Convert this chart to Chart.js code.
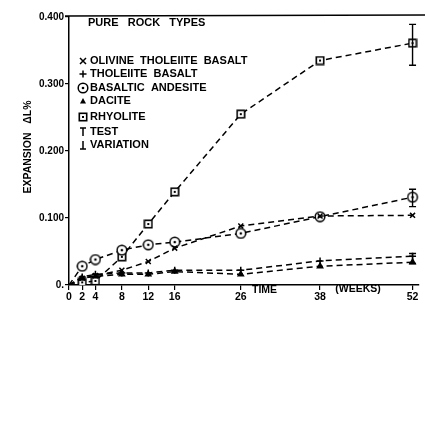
<!DOCTYPE html>
<html><head><meta charset="utf-8">
<script src="https://cdn.jsdelivr.net/npm/chart.js@4/dist/chart.umd.min.js"></script>
<style>html,body{margin:0;padding:0;background:#fff;} canvas{display:block;}</style>
</head><body><canvas id="c" width="425" height="306"></canvas>
<script>
// ---- data ----
const weeks = [0, 2, 4, 8, 12, 16, 26, 38, 52];
const olivineTholeiiteBasalt = [0, 0.010, 0.014, 0.022, 0.035, 0.055, 0.088, 0.103, 0.104];
const tholeiiteBasalt = [0, 0.012, 0.016, 0.018, 0.018, 0.022, 0.022, 0.036, 0.043];
const basalticAndesite = [0, 0.028, 0.038, 0.052, 0.060, 0.064, 0.077, 0.102, 0.131];
const dacite = [0, 0.010, 0.013, 0.016, 0.016, 0.020, 0.016, 0.028, 0.034];
const rhyolite = [0, 0.004, 0.006, 0.042, 0.091, 0.139, 0.255, 0.335, 0.361];
const errWeek = [52, 52, 52];
const errLow = [0.328, 0.117, 0.032];
const errHigh = [0.389, 0.143, 0.047];
const xTickValues = [0, 2, 4, 8, 12, 16, 26, 38, 52];
const yTickValues = [0, 0.1, 0.2, 0.3, 0.4];
const yTickLabels = ['0.', '0.100', '0.200', '0.300', '0.400'];
const legendTitle = 'PURE   ROCK   TYPES';
const legendLabels = ['OLIVINE  THOLEIITE  BASALT', 'THOLEIITE  BASALT', 'BASALTIC  ANDESITE', 'DACITE', 'RHYOLITE', 'TEST', 'VARIATION'];
const yTitle = 'EXPANSION   \u0394L%';
const xTitle1 = 'TIME';
const xTitle2 = '(WEEKS)';

const FONT = '"Liberation Sans", Arial, sans-serif';

function mk(w, h, fn) { const c = document.createElement('canvas'); c.width = w; c.height = h; fn(c.getContext('2d')); return c; }
const squareDot = mk(10, 10, g => { g.fillStyle = '#fff'; g.fillRect(1, 1, 8, 8); g.strokeStyle = '#000'; g.lineWidth = 1.6; g.strokeRect(1.3, 1.3, 7.4, 7.4); g.fillStyle = '#000'; g.fillRect(4, 4, 2, 2); });
const circleDot = mk(12, 12, g => { g.fillStyle = '#fff'; g.beginPath(); g.arc(6, 6, 4.8, 0, Math.PI * 2); g.fill(); g.strokeStyle = '#000'; g.lineWidth = 1.5; g.stroke(); g.fillStyle = '#000'; g.beginPath(); g.arc(6, 6, 1.3, 0, Math.PI * 2); g.fill(); });

function pts(arr) { return weeks.map((w, i) => ({ x: w, y: arr[i] })); }
function ds(label, arr, style, radius) {
  return { label, data: pts(arr), borderColor: '#000', borderWidth: 1.5, borderDash: [6, 4],
    pointStyle: style, pointRadius: weeks.map((w, i) => i === 0 ? 0 : radius), pointBorderColor: '#000', pointBorderWidth: 1.5,
    pointBackgroundColor: '#000', tension: 0, fill: false };
}

const datasets = [
  ds(legendLabels[0], olivineTholeiiteBasalt, 'crossRot', 3.5),
  ds(legendLabels[1], tholeiiteBasalt, 'cross', 3.5),
  ds(legendLabels[3], dacite, 'triangle', 3),
  ds(legendLabels[2], basalticAndesite, circleDot, 5),
  ds(legendLabels[4], rhyolite, squareDot, 5),
];

const extras = {
  id: 'extras',
  afterDraw(chart) {
    const { ctx, chartArea: a, scales: { x, y } } = chart;
    ctx.save();
    ctx.strokeStyle = '#000'; ctx.lineWidth = 1.5;
    ctx.beginPath(); ctx.moveTo(a.left - 4, a.top - 1); ctx.lineTo(chart.width, a.top - 2); ctx.stroke();
    ctx.lineWidth = 1.4;
    errWeek.forEach((w, i) => {
      const px = x.getPixelForValue(w), p1 = y.getPixelForValue(errLow[i]), p2 = y.getPixelForValue(errHigh[i]);
      ctx.beginPath(); ctx.moveTo(px, p1); ctx.lineTo(px, p2);
      ctx.moveTo(px - 3.5, p1); ctx.lineTo(px + 3.5, p1);
      ctx.moveTo(px - 3.5, p2); ctx.lineTo(px + 3.5, p2); ctx.stroke();
    });
    ctx.fillStyle = '#000';
    ctx.font = 'bold 10.5px ' + FONT; ctx.textBaseline = 'middle'; ctx.textAlign = 'left';
    ctx.fillText(xTitle1, x.getPixelForValue(27.7), a.bottom + 5);
    ctx.fillText(xTitle2, x.getPixelForValue(40.3), a.bottom + 4);
    ctx.save(); ctx.translate(28, 147); ctx.rotate(-Math.PI / 2);
    ctx.textAlign = 'center'; ctx.fillText(yTitle, 0, 0); ctx.restore();
    const lx = a.left + 14, tx = a.left + 19;
    ctx.font = 'bold 11px ' + FONT;
    ctx.fillText(legendTitle, a.left + 19, a.top + 6);
    const rows = [44, 57, 71, 84, 100, 115, 128];
    rows.forEach((r, i) => {
      const yy = a.top + r;
      ctx.fillStyle = '#000'; ctx.fillText(legendLabels[i], tx + 2, yy);
      ctx.lineWidth = 1.5; ctx.strokeStyle = '#000';
      ctx.beginPath();
      if (i === 0) { ctx.moveTo(lx - 3, yy - 3); ctx.lineTo(lx + 3, yy + 3); ctx.moveTo(lx + 3, yy - 3); ctx.lineTo(lx - 3, yy + 3); ctx.stroke(); }
      if (i === 1) { ctx.moveTo(lx - 3.5, yy); ctx.lineTo(lx + 3.5, yy); ctx.moveTo(lx, yy - 3.5); ctx.lineTo(lx, yy + 3.5); ctx.stroke(); }
      if (i === 2) { ctx.drawImage(circleDot, lx - 6, yy - 6); }
      if (i === 3) { ctx.moveTo(lx, yy - 3); ctx.lineTo(lx + 3, yy + 2.5); ctx.lineTo(lx - 3, yy + 2.5); ctx.closePath(); ctx.fill(); }
      if (i === 4) { ctx.drawImage(squareDot, lx - 5, yy - 5); }
      if (i === 5) { ctx.moveTo(lx - 3, yy - 4); ctx.lineTo(lx + 3, yy - 4); ctx.moveTo(lx, yy - 4); ctx.lineTo(lx, yy + 4); ctx.stroke(); }
      if (i === 6) { ctx.moveTo(lx - 3, yy + 4); ctx.lineTo(lx + 3, yy + 4); ctx.moveTo(lx, yy - 4); ctx.lineTo(lx, yy + 4); ctx.stroke(); }
    });
    ctx.restore();
  }
};

new Chart(document.getElementById('c'), {
  type: 'line',
  data: { datasets },
  options: {
    responsive: false, animation: false, devicePixelRatio: 1,
    layout: { padding: { top: 17, right: 0, left: 0, bottom: 0 } },
    plugins: { legend: { display: false }, tooltip: { enabled: false } },
    scales: {
      x: {
        type: 'linear', min: 0, max: 52.9,
        afterBuildTicks: s => { s.ticks = xTickValues.map(v => ({ value: v })); },
        afterFit: s => { s.height = 21; s.paddingRight = 0; },
        grid: { drawOnChartArea: false, tickLength: 5, color: '#000', lineWidth: 1.2 },
        border: { color: '#000', width: 1.5 },
        ticks: { color: '#000', padding: 1, maxRotation: 0, autoSkip: false, font: { family: FONT, size: 10.5, weight: 'bold' } }
      },
      y: {
        min: 0, max: 0.4,
        afterBuildTicks: s => { s.ticks = yTickValues.map(v => ({ value: v })); },
        afterFit: s => { s.width = 69; },
        grid: { drawOnChartArea: false, tickLength: 4, color: '#000', lineWidth: 1.2 },
        border: { color: '#000', width: 1.5 },
        ticks: { color: '#000', padding: 1, font: { family: FONT, size: 10, weight: 'bold' },
          callback: (v, i) => yTickLabels[i] }
      }
    }
  },
  plugins: [extras]
});
</script></body></html>
